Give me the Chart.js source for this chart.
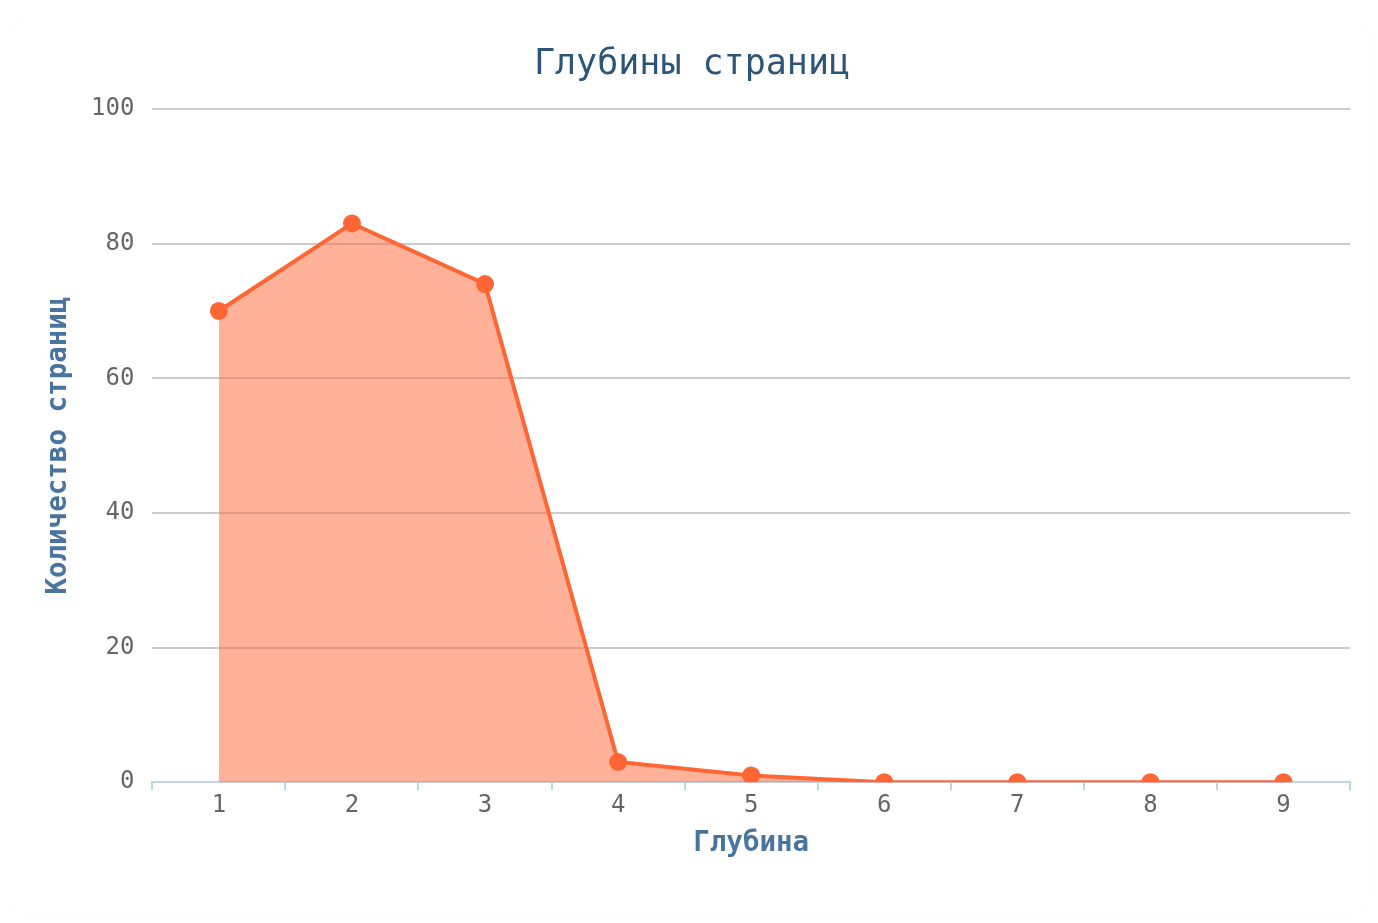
<!DOCTYPE html>
<html>
<head>
<meta charset="utf-8">
<script src="https://cdn.jsdelivr.net/npm/chart.js@4"></script>
<style>
    html, body { margin: 0; padding: 0; background: #fff; }
    .card {
        position: absolute; left: 10px; top: 18px; width: 1358px; height: 895px;
        border-radius: 14px; box-shadow: 0 0 3px rgba(0,0,0,0.04);
    }
    #wrap { position: absolute; left: 0; top: 0; width: 1378px; height: 923px; }
</style>
</head>
<body>
<div class="card"></div>
<div id="wrap"><canvas id="tiefenChart" width="1378" height="923"></canvas></div>
<script>
// Daten
const tiefen = ['1', '2', '3', '4', '5', '6', '7', '8', '9'];
const seitenAnzahl = [70, 83, 74, 3, 1, 0, 0, 0, 0];
const yTicks = [0, 20, 40, 60, 80, 100];

const mono = "'DejaVu Sans Mono', monospace";

const ctx = document.getElementById('tiefenChart').getContext('2d');
const myChart = new Chart(ctx, {
    type: 'line',
    data: {
        labels: tiefen,
        datasets: [{
            label: 'Количество страниц',
            data: seitenAnzahl,
            fill: 'origin',
            backgroundColor: 'rgba(255, 102, 51, 0.5)',
            borderColor: '#ff6633',
            borderWidth: 4,
            pointRadius: 9,
            pointBackgroundColor: '#ff6633',
            pointBorderColor: '#ff6633',
            pointBorderWidth: 0,
            tension: 0
        }]
    },
    options: {
        responsive: false,
        animation: false,
        layout: { padding: { left: 34, right: 28, top: 44, bottom: 59 } },
        plugins: {
            legend: { display: false },
            tooltip: { enabled: false },
            title: {
                display: true,
                text: 'Глубины страниц',
                color: '#2d5479',
                font: { family: mono, size: 35, weight: 'normal' },
                padding: { top: 0, bottom: 23 }
            }
        },
        scales: {
            x: {
                offset: true,
                grid: {
                    display: true,
                    offset: true,
                    drawOnChartArea: false,
                    drawTicks: true,
                    tickLength: 8,
                    color: '#c4d3e3',
                    lineWidth: 2
                },
                border: { display: true, color: '#c4d3e3', width: 2 },
                ticks: {
                    color: '#666',
                    font: { family: mono, size: 24 },
                    padding: 1
                },
                title: {
                    display: true,
                    text: 'Глубина',
                    color: '#4a74a0',
                    font: { family: mono, size: 27.5, weight: 'bold' },
                    padding: { top: 6 }
                }
            },
            y: {
                min: 0,
                max: 100,
                afterBuildTicks: function (axis) {
                    axis.ticks = yTicks.map(v => ({ value: v }));
                },
                grid: {
                    color: '#cccccc',
                    lineWidth: 2,
                    drawTicks: false
                },
                border: { display: false },
                ticks: {
                    color: '#666',
                    font: { family: mono, size: 24 },
                    padding: 18
                },
                title: {
                    display: true,
                    text: 'Количество страниц',
                    color: '#4a74a0',
                    font: { family: mono, size: 27.5, weight: 'bold' },
                    padding: { top: 8, bottom: -2 }
                }
            }
        }
    }
});
</script>
</body>
</html>
